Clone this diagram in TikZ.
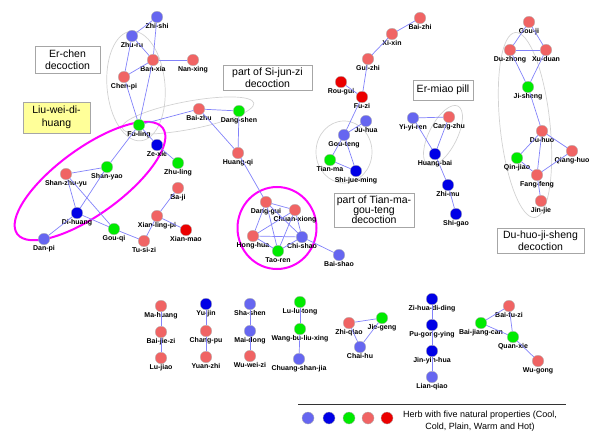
\documentclass[tikz,border=0pt]{standalone}
\usepackage{fontspec}
\setmainfont{Liberation Sans}
\definecolor{cool}{RGB}{102,102,240}
\definecolor{cold}{RGB}{0,0,230}
\definecolor{plain}{RGB}{0,235,0}
\definecolor{warm}{RGB}{240,100,100}
\definecolor{hot}{RGB}{235,0,0}
\definecolor{edgec}{RGB}{130,130,250}
\definecolor{ringc}{RGB}{210,210,210}
\definecolor{boxyellow}{RGB}{255,255,153}
\definecolor{mag}{RGB}{255,0,255}
\tikzset{
 herb/.style={circle,minimum size=11.5pt,inner sep=0pt,draw=gray!60,line width=0.3pt,label distance=2.5pt},
 lbl/.style={font=\fontsize{7}{8}\selectfont\bfseries,inner sep=0.5pt,text height=5pt,text depth=1.5pt},
 conn/.style={draw=edgec,line width=0.7pt},
 ring/.style={draw=ringc,line width=0.7pt},
 mring/.style={draw=mag,line width=2pt},
 infobox/.style={draw=gray!70,fill=white,line width=0.6pt,align=center,font=\fontsize{10.5}{12}\selectfont,inner sep=0pt},
 legdot/.style={circle,minimum size=12pt,inner sep=0pt,draw=gray!60,line width=0.3pt},
}
\newcommand\hb[5]{\node[herb,fill=#4,label={[lbl]below:#5}] (#1) at (#2,#3) {};}
\begin{document}
\begin{tikzpicture}[x=1pt,y=-1pt]
\useasboundingbox (0,0) rectangle (600,444);
% grey rings
\draw[ring,rotate around={5:(136,86)}] (136,86) ellipse [x radius=29,y radius=55];
\draw[ring,rotate around={10.7:(188,115.5)}] (188,115.5) ellipse [x radius=67,y radius=14];
\draw[ring] (344,152) ellipse [x radius=28,y radius=31];
\draw[ring,rotate around={63:(443,135.5)}] (443,135.5) ellipse [x radius=33,y radius=14];
\draw[ring,rotate around={96:(525,125)}] (525,125) ellipse [x radius=93,y radius=25];
% magenta rings
\draw[mring,rotate around={36:(90,181)}] (90,181) ellipse [x radius=90,y radius=33];
\draw[mring] (277,228) ellipse [x radius=39.5,y radius=41];
% herbs
\hb{zhishi}{157}{17}{cool}{Zhi-shi}
\hb{zhuru}{132}{36}{cool}{Zhu-ru}
\hb{banxia}{153}{60}{warm}{Ban-xia}
\hb{nanxing}{193}{60}{warm}{Nan-xing}
\hb{chenpi}{124}{77}{warm}{Chen-pi}
\hb{fuling}{139}{125}{plain}{Fu-ling}
\hb{baizhu}{199}{109}{warm}{Bai-zhu}
\hb{dangshen}{239}{111}{plain}{Dang-shen}
\hb{huangqi}{238}{153}{warm}{Huang-qi}
\hb{zexie}{157}{145}{cold}{Ze-xie}
\hb{zhuling}{178}{163}{plain}{Zhu-ling}
\hb{shanzhuyu}{66}{174}{warm}{Shan-zhu-yu}
\hb{shanyao}{107}{167}{plain}{Shan-yao}
\hb{dihuang}{77}{213}{cold}{Di-huang}
\hb{danpi}{44}{239}{cool}{Dan-pi}
\hb{gouqi}{114}{229}{plain}{Gou-qi}
\hb{tusizi}{144}{241}{warm}{Tu-si-zi}
\hb{xianlingpi}{157}{216}{warm}{Xian-ling-pi}
\hb{baji}{178}{188}{warm}{Ba-ji}
\hb{xianmao}{186}{230}{hot}{Xian-mao}
\hb{danggui}{266}{202}{warm}{Dang-gui}
\hb{chuanxiong}{295}{210}{warm}{Chuan-xiong}
\hb{honghua}{253}{236}{warm}{Hong-hua}
\hb{chishao}{302}{237}{cool}{Chi-shao}
\hb{taoren}{278}{251}{plain}{Tao-ren}
\hb{baishao}{339}{255}{cool}{Bai-shao}
\hb{xixin}{392}{34}{warm}{Xi-xin}
\hb{baizhi}{420}{18}{warm}{Bai-zhi}
\hb{guizhi}{368}{59}{warm}{Gui-zhi}
\hb{rougui}{341}{82}{hot}{Rou-gui}
\hb{fuzi}{362}{97}{hot}{Fu-zi}
\hb{juhua}{366}{121}{cool}{Ju-hua}
\hb{gouteng}{344}{135}{cool}{Gou-teng}
\hb{tianma}{330}{160}{plain}{Tian-ma}
\hb{shijueming}{356}{171}{cold}{Shi-jue-ming}
\hb{yiyiren}{413}{118}{cool}{Yi-yi-ren}
\hb{cangzhu}{449}{117}{warm}{Cang-zhu}
\hb{huangbai}{435}{154}{cold}{Huang-bai}
\hb{zhimu}{448}{185}{cold}{Zhi-mu}
\hb{shigao}{456}{214}{cold}{Shi-gao}
\hb{gouji}{529}{22}{warm}{Gou-ji}
\hb{duzhong}{510}{50}{warm}{Du-zhong}
\hb{xuduan}{546}{50}{warm}{Xu-duan}
\hb{jisheng}{528}{87}{plain}{Ji-sheng}
\hb{duhuo}{542}{131}{warm}{Du-huo}
\hb{qinjiao}{517}{158}{plain}{Qin-jiao}
\hb{qianghuo}{572}{151}{warm}{Qiang-huo}
\hb{fangfeng}{537}{175}{warm}{Fang-feng}
\hb{jinjie}{541}{201}{warm}{Jin-jie}
% bottom
\hb{mahuang}{161}{306}{warm}{Ma-huang}
\hb{baijiezi}{161}{332}{warm}{Bai-jie-zi}
\hb{lujiao}{161}{358}{warm}{Lu-jiao}
\hb{yujin}{206}{304}{cold}{Yu-jin}
\hb{changpu}{206}{331}{warm}{Chang-pu}
\hb{yuanzhi}{206}{357}{warm}{Yuan-zhi}
\hb{shashen}{250}{304}{cool}{Sha-shen}
\hb{maidong}{250}{331}{cool}{Mai-dong}
\hb{wuweizi}{250}{356}{warm}{Wu-wei-zi}
\hb{lulutong}{300}{302}{plain}{Lu-lu-tong}
\hb{wangbu}{300}{329}{plain}{Wang-bu-liu-xing}
\hb{chuangshan}{299}{359}{cool}{Chuang-shan-jia}
\hb{zhiqiao}{349}{323}{warm}{Zhi-qiao}
\hb{jiegeng}{382}{318}{plain}{Jie-geng}
\hb{chaihu}{360}{347}{cool}{Chai-hu}
\hb{zihua}{432}{299}{cold}{Zi-hua-di-ding}
\hb{pugong}{432}{325}{cold}{Pu-gong-ying}
\hb{jinyin}{432}{351}{cold}{Jin-yin-hua}
\hb{lianqiao}{432}{377}{cool}{Lian-qiao}
\hb{baifuzi}{509}{306}{warm}{Bai-fu-zi}
\hb{baijiang}{481}{323}{plain}{Bai-jiang-can}
\hb{quanxie}{513}{337}{plain}{Quan-xie}
\hb{wugong}{538}{361}{warm}{Wu-gong}
% connectors
\foreach \a/\b in {zhishi/zhuru,zhishi/banxia,zhuru/banxia,zhuru/chenpi,banxia/chenpi,banxia/nanxing,
 chenpi/fuling,banxia/fuling,fuling/baizhu,baizhu/dangshen,baizhu/huangqi,dangshen/huangqi,huangqi/danggui,
 fuling/zexie,zexie/zhuling,fuling/shanyao,shanyao/dihuang,shanzhuyu/shanyao,shanzhuyu/dihuang,shanzhuyu/gouqi,
 dihuang/gouqi,dihuang/danpi,gouqi/tusizi,tusizi/xianlingpi,xianlingpi/baji,xianlingpi/xianmao,
 danggui/chuanxiong,danggui/honghua,danggui/chishao,danggui/taoren,chuanxiong/honghua,chuanxiong/chishao,
 chuanxiong/taoren,honghua/chishao,honghua/taoren,taoren/chishao,chishao/baishao,
 xixin/baizhi,xixin/guizhi,guizhi/fuzi,rougui/fuzi,fuzi/gouteng,gouteng/juhua,gouteng/tianma,gouteng/shijueming,tianma/shijueming,
 yiyiren/cangzhu,yiyiren/huangbai,cangzhu/huangbai,huangbai/zhimu,zhimu/shigao,
 gouji/duzhong,gouji/xuduan,duzhong/xuduan,duzhong/jisheng,xuduan/jisheng,jisheng/duhuo,duhuo/qinjiao,duhuo/qianghuo,
 duhuo/fangfeng,qinjiao/fangfeng,qianghuo/fangfeng,fangfeng/jinjie,
 mahuang/baijiezi,baijiezi/lujiao,yujin/changpu,changpu/yuanzhi,shashen/maidong,maidong/wuweizi,
 lulutong/wangbu,wangbu/chuangshan,zhiqiao/jiegeng,zhiqiao/chaihu,jiegeng/chaihu,
 zihua/pugong,pugong/jinyin,jinyin/lianqiao,baifuzi/baijiang,baifuzi/quanxie,baijiang/quanxie,quanxie/wugong}
 \draw[conn] (\a) -- (\b);
% boxes
\node[infobox,minimum width=65pt,minimum height=27pt] (erchen) at (67.5,59.5) {Er-chen\\decoction};
\node[infobox,fill=boxyellow,minimum width=67pt,minimum height=31pt,font=\fontsize{10.5}{13}\selectfont] (liuwei) at (56.5,117.5) {Liu-wei-di-\\huang};
\node[infobox,minimum width=89pt,minimum height=25pt] (sijunzi) at (267.5,77.5) {part of Si-jun-zi\\decoction};
\node[infobox,minimum width=60pt,minimum height=20pt] (ermiao) at (443,90) {Er-miao pill};
\node[infobox,minimum width=80pt,minimum height=34pt,font=\fontsize{10.5}{9.5}\selectfont] (tianmabox) at (374,210) {part of Tian-ma-\\gou-teng\\decoction};
\node[infobox,minimum width=87pt,minimum height=25pt] (duhuobox) at (540.5,240.5) {Du-huo-ji-sheng\\decoction};
% legend
\coordinate (legl) at (298,404);
\coordinate (legr) at (566,404);
\draw[line width=0.8pt,black!80] (legl) -- (legr);
\node[legdot,fill=cool] (lg1) at (308,418) {};
\node[legdot,fill=cold] (lg2) at (329,418) {};
\node[legdot,fill=plain] (lg3) at (349,418) {};
\node[legdot,fill=warm] (lg4) at (368,418) {};
\node[legdot,fill=hot] (lg5) at (387,418) {};
\node[align=center,font=\fontsize{9}{12}\selectfont,inner sep=0pt] (legtext) at (480,421) {Herb with five natural properties (Cool,\\Cold, Plain, Warm and Hot)};
\end{tikzpicture}
\end{document}
